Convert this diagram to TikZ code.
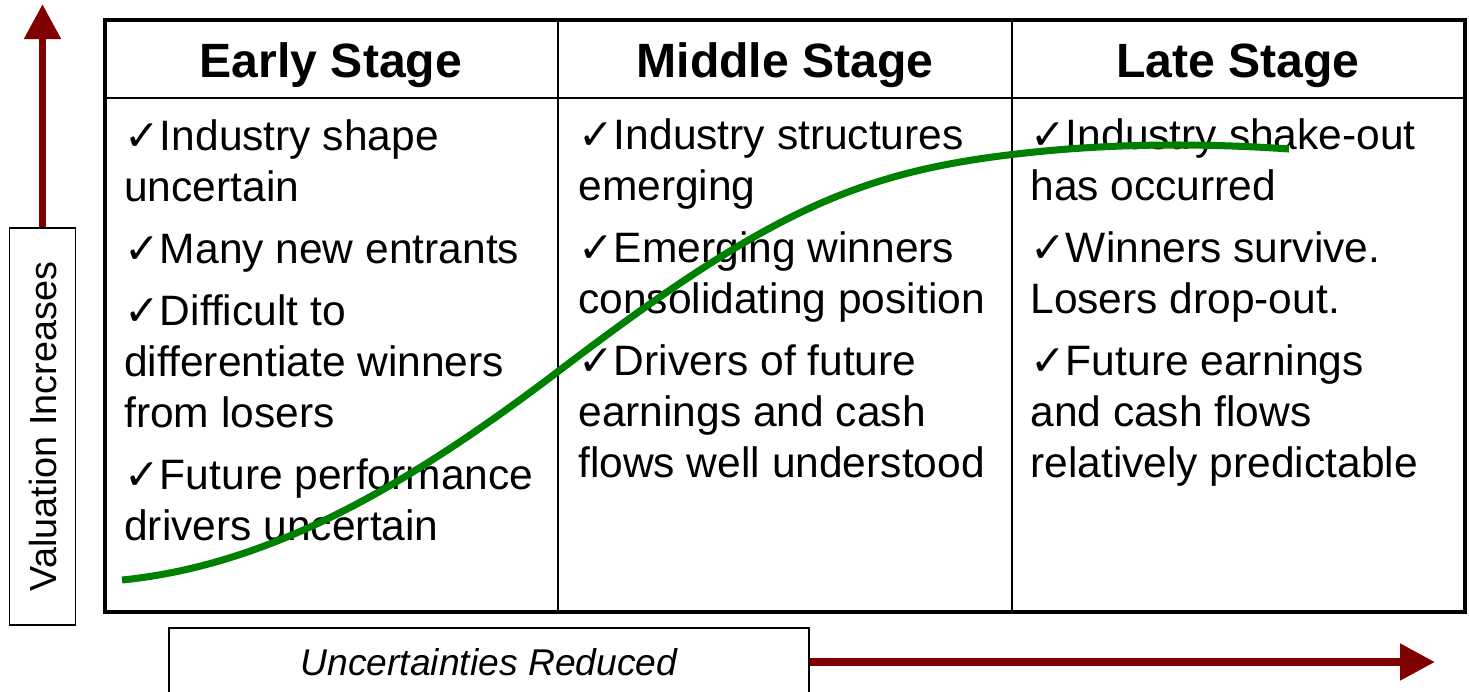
\documentclass[tikz,border=0pt]{standalone}
\usepackage{fontspec}
\setmainfont{Liberation Sans}
\newfontfamily\checkfont{DejaVu Sans}
\usetikzlibrary{arrows.meta}
\definecolor{darkred}{rgb}{0.50,0,0}
\definecolor{curvegreen}{rgb}{0,0.50,0}
\newcommand{\chk}{{\checkfont ✓}}

\begin{document}
\begin{tikzpicture}[x=0.02cm, y=-0.02cm,
  stagehead/.style={anchor=base, inner sep=0, font=\fontsize{27.4}{32}\selectfont\bfseries},
  stagetext/.style={anchor=base west, inner sep=0, align=left, font=\fontsize{24.2}{29}\selectfont},
  axisbox/.style={draw, line width=0.8pt, inner sep=0},
  axisarrow/.style={darkred, line width=4.5pt, -{Triangle[length=0.7cm, width=0.7cm]}}
]
\useasboundingbox (0,0) rectangle (1469,691);
%		table frame
\draw[line width=1pt] (105,98) -- (1465,98);
\draw[line width=1pt] (558,20) -- (558,612);
\draw[line width=1pt] (1012,20) -- (1012,612);
\draw[line width=2.8pt] (105,20) rectangle (1465,612);
\node[stagehead] (early) at (331,77) {Early Stage};
\node[stagehead] (middle) at (785,77) {Middle Stage};
\node[stagehead] (late) at (1238,77) {Late Stage};
%		text nodes sit on their last baseline
\node[stagetext] (earlytext) at (124,540) {\chk Industry shape\\ uncertain\\[6.3pt]
  \chk Many new entrants\\[6.3pt] \chk Difficult to\\ differentiate winners\\ from losers\\[6.3pt]
  \chk Future performance\\ drivers uncertain};
\node[stagetext] (middletext) at (578,477) {\chk Industry structures\\ emerging\\[6.3pt]
  \chk Emerging winners\\ consolidating position\\[6.3pt] \chk Drivers of future\\
  earnings and cash\\ flows well understood};
\node[stagetext] (latetext) at (1030,477) {\chk Industry shake-out\\ has occurred\\[6.3pt]
  \chk Winners survive.\\ Losers drop-out.\\[6.3pt] \chk Future earnings\\
  and cash flows\\ relatively predictable};
%		axes
\node[axisbox, minimum width=1.32cm, minimum height=7.94cm] (val) at (42.5,426.5)
  {\rotatebox{90}{\fontsize{21.5}{25}\selectfont Valuation Increases}};
\node[axisbox, minimum width=12.8cm, minimum height=1.36cm, font=\fontsize{21.2}{25}\selectfont\itshape]
  (unc) at (489,662) {Uncertainties Reduced};
\coordinate (valtop) at (42.5,4);
\coordinate (uncend) at (1435,662);
\draw[axisarrow] (val) -- (valtop);
\draw[axisarrow] (unc) -- (uncend);
%		valuation curve
\draw[curvegreen, line width=4pt] (122,580) .. controls (272,565) and (410,484) .. (560,370)
  .. controls (760,218) and (850,175.5) .. (1000,156)
  .. controls (1100,143) and (1199,142.7) .. (1289,149);
\end{tikzpicture}
\end{document}
